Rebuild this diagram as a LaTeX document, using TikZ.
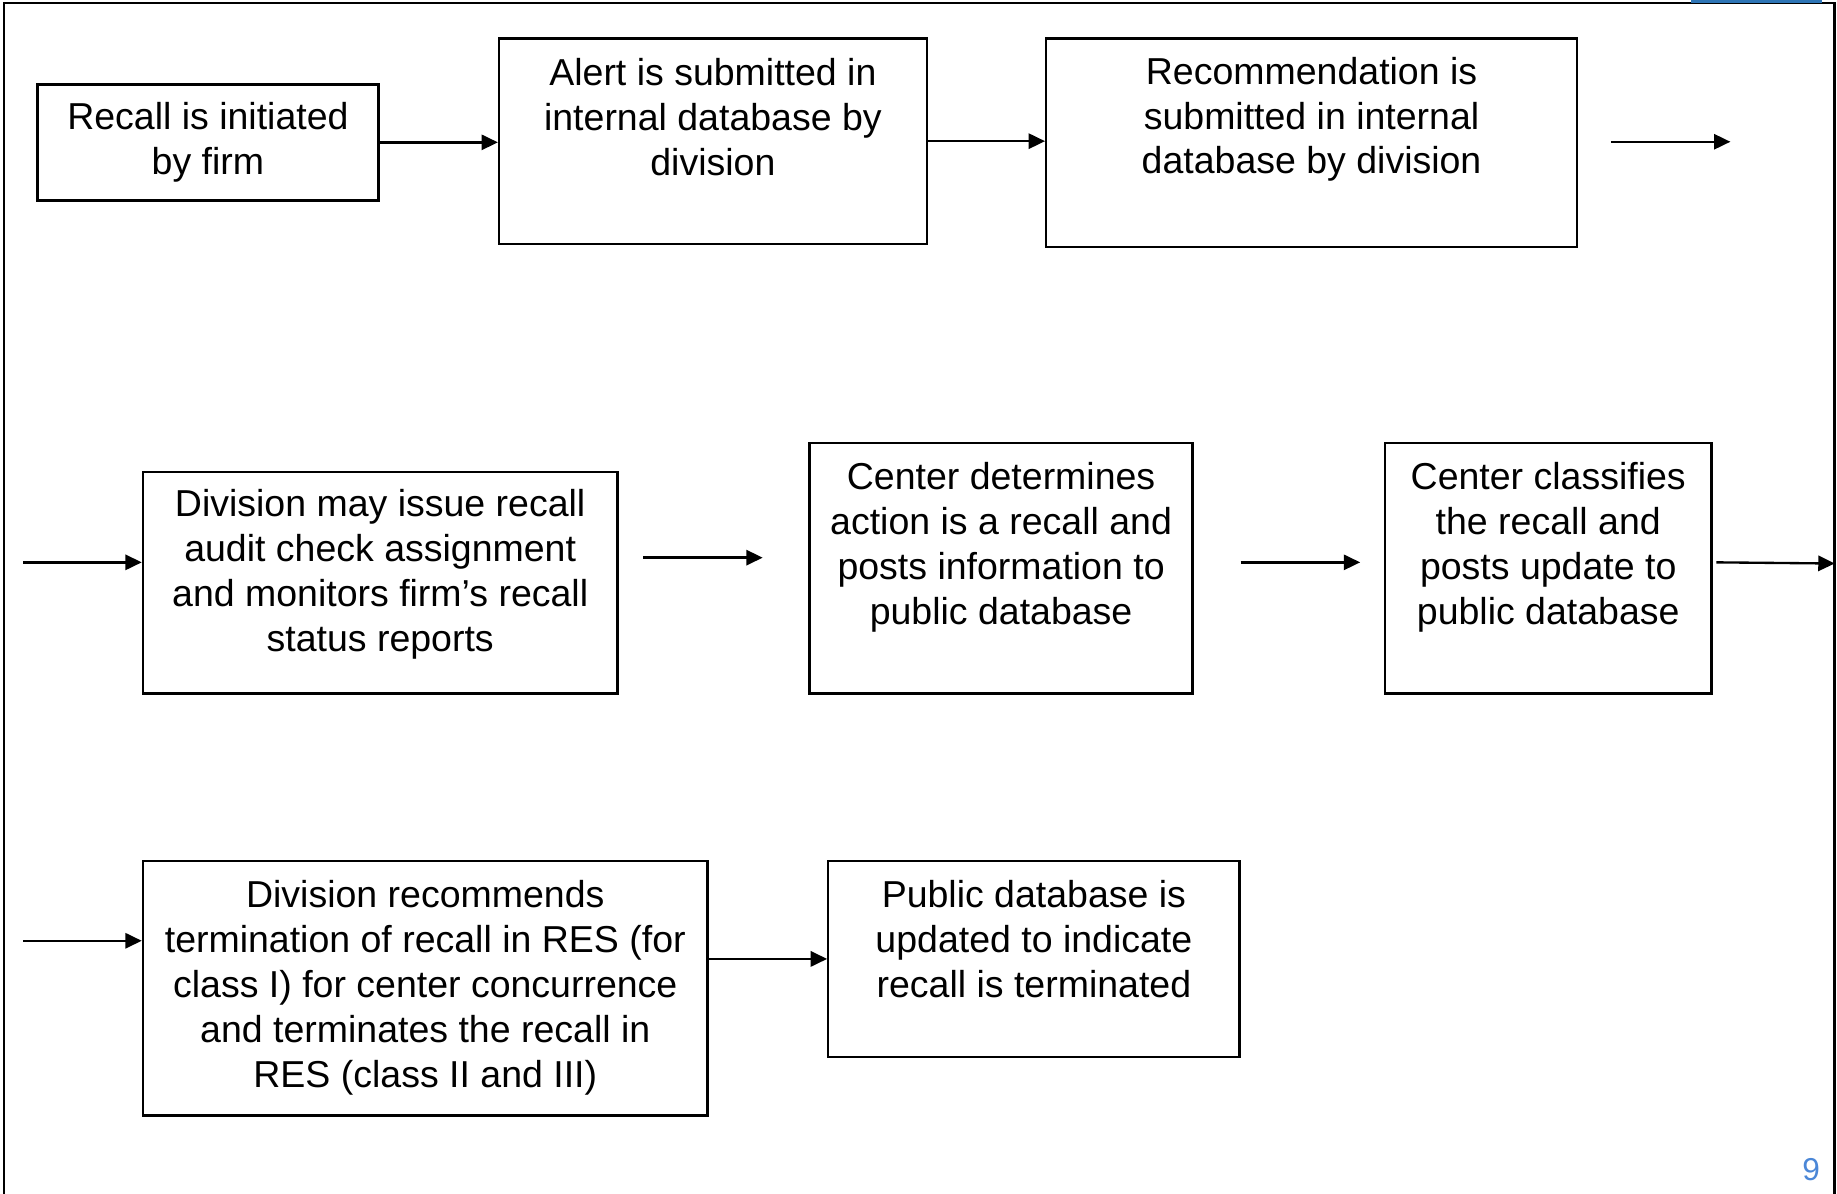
\documentclass[tikz,border=0pt]{standalone}
\usepackage{fontspec}
\setmainfont{Liberation Sans}
\usetikzlibrary{arrows.meta,calc}
\definecolor{pagenum}{RGB}{75,135,215}
\definecolor{topbar}{RGB}{46,117,182}
\begin{document}
\begin{tikzpicture}[x=1pt,y=-1pt,
  stepbox/.style={draw=black,line width=2pt,rectangle,inner sep=0pt},
  boxtext/.style={anchor=north,inner sep=0pt,align=center,font=\fontsize{32}{38.3}\selectfont},
  flow/.style={line width=2pt,-{Triangle[length=14pt,width=13pt]}},
  frame/.style={line width=2.2pt}]
\useasboundingbox (0,0) rectangle (1568,1019);
% frame
\draw[frame] (3.5,1019) -- (3.5,2.5) -- (1566,2.5) -- (1566,1019);
\fill[topbar] (1443,0) rectangle (1555,2.2);
% row 1
\node[stepbox,minimum width=291pt,minimum height=99pt] (b1) at (177.5,121.5) {};
\node[boxtext] (b1t) at ($(b1.north)+(0,16)$) {Recall is initiated\\by firm};
\node[stepbox,minimum width=365pt,minimum height=175pt] (b2) at (608.5,120.5) {};
\node[boxtext] (b2t) at ($(b2.north)+(0,17.5)$) {Alert is submitted in\\internal database by\\division};
\node[stepbox,minimum width=453pt,minimum height=178pt] (b3) at (1119.5,122) {};
\node[boxtext] (b3t) at ($(b3.north)+(0,16.5)$) {Recommendation is\\submitted in internal\\database by division};
% row 2
\node[stepbox,minimum width=405pt,minimum height=189pt] (b4) at (324.5,497.5) {};
\node[boxtext] (b4t) at ($(b4.north)+(0,15.5)$) {Division may issue recall\\audit check assignment\\and monitors firm’s recall\\status reports};
\node[stepbox,minimum width=327pt,minimum height=214pt] (b5) at (854.5,485) {};
\node[boxtext] (b5t) at ($(b5.north)+(0,17.5)$) {Center determines\\action is a recall and\\posts information to\\public database};
\node[stepbox,minimum width=279pt,minimum height=214pt] (b6) at (1321.5,485) {};
\node[boxtext] (b6t) at ($(b6.north)+(0,17.5)$) {Center classifies\\the recall and\\posts update to\\public database};
% row 3
\node[stepbox,minimum width=482pt,minimum height=217pt] (b7) at (363,843.5) {};
\node[boxtext] (b7t) at ($(b7.north)+(0,17.5)$) {Division recommends\\termination of recall in RES (for\\class I) for center concurrence\\and terminates the recall in\\RES (class II and III)};
\node[stepbox,minimum width=351pt,minimum height=167pt] (b8) at (882.5,818.5) {};
\node[boxtext] (b8t) at ($(b8.north)+(0,17.5)$) {Public database is\\updated to indicate\\recall is terminated};
% page number
\node[inner sep=0pt,text=pagenum,font=\fontsize{27}{32}\selectfont] (pg) at (1546,998) {9};
% free arrow ends
\coordinate (a1s) at (1375,121);
\coordinate (a1e) at (1477,121);
\coordinate (r2in) at (20,480);
\coordinate (a2s) at (549,476);
\coordinate (a2e) at (651,476);
\coordinate (a3s) at (1059,480);
\coordinate (a3e) at (1161,480);
\coordinate (a4s) at (1465,480);
\coordinate (a4e) at (1566,481);
\coordinate (r3in) at (20,803);
% connectors
\draw[flow] (b1.east) -- (b1.east -| b2.west);
\draw[flow] (b2.east) -- (b2.east -| b3.west);
\draw[flow] (a1s) -- (a1e);
\draw[flow] (r2in) -- (r2in -| b4.west);
\draw[flow] (a2s) -- (a2e);
\draw[flow] (a3s) -- (a3e);
\draw[flow] (a4s) -- (a4e);
\draw[flow] (r3in) -- (r3in -| b7.west);
\draw[flow] (b7.east |- b8.west) -- (b8.west);
\end{tikzpicture}
\end{document}
